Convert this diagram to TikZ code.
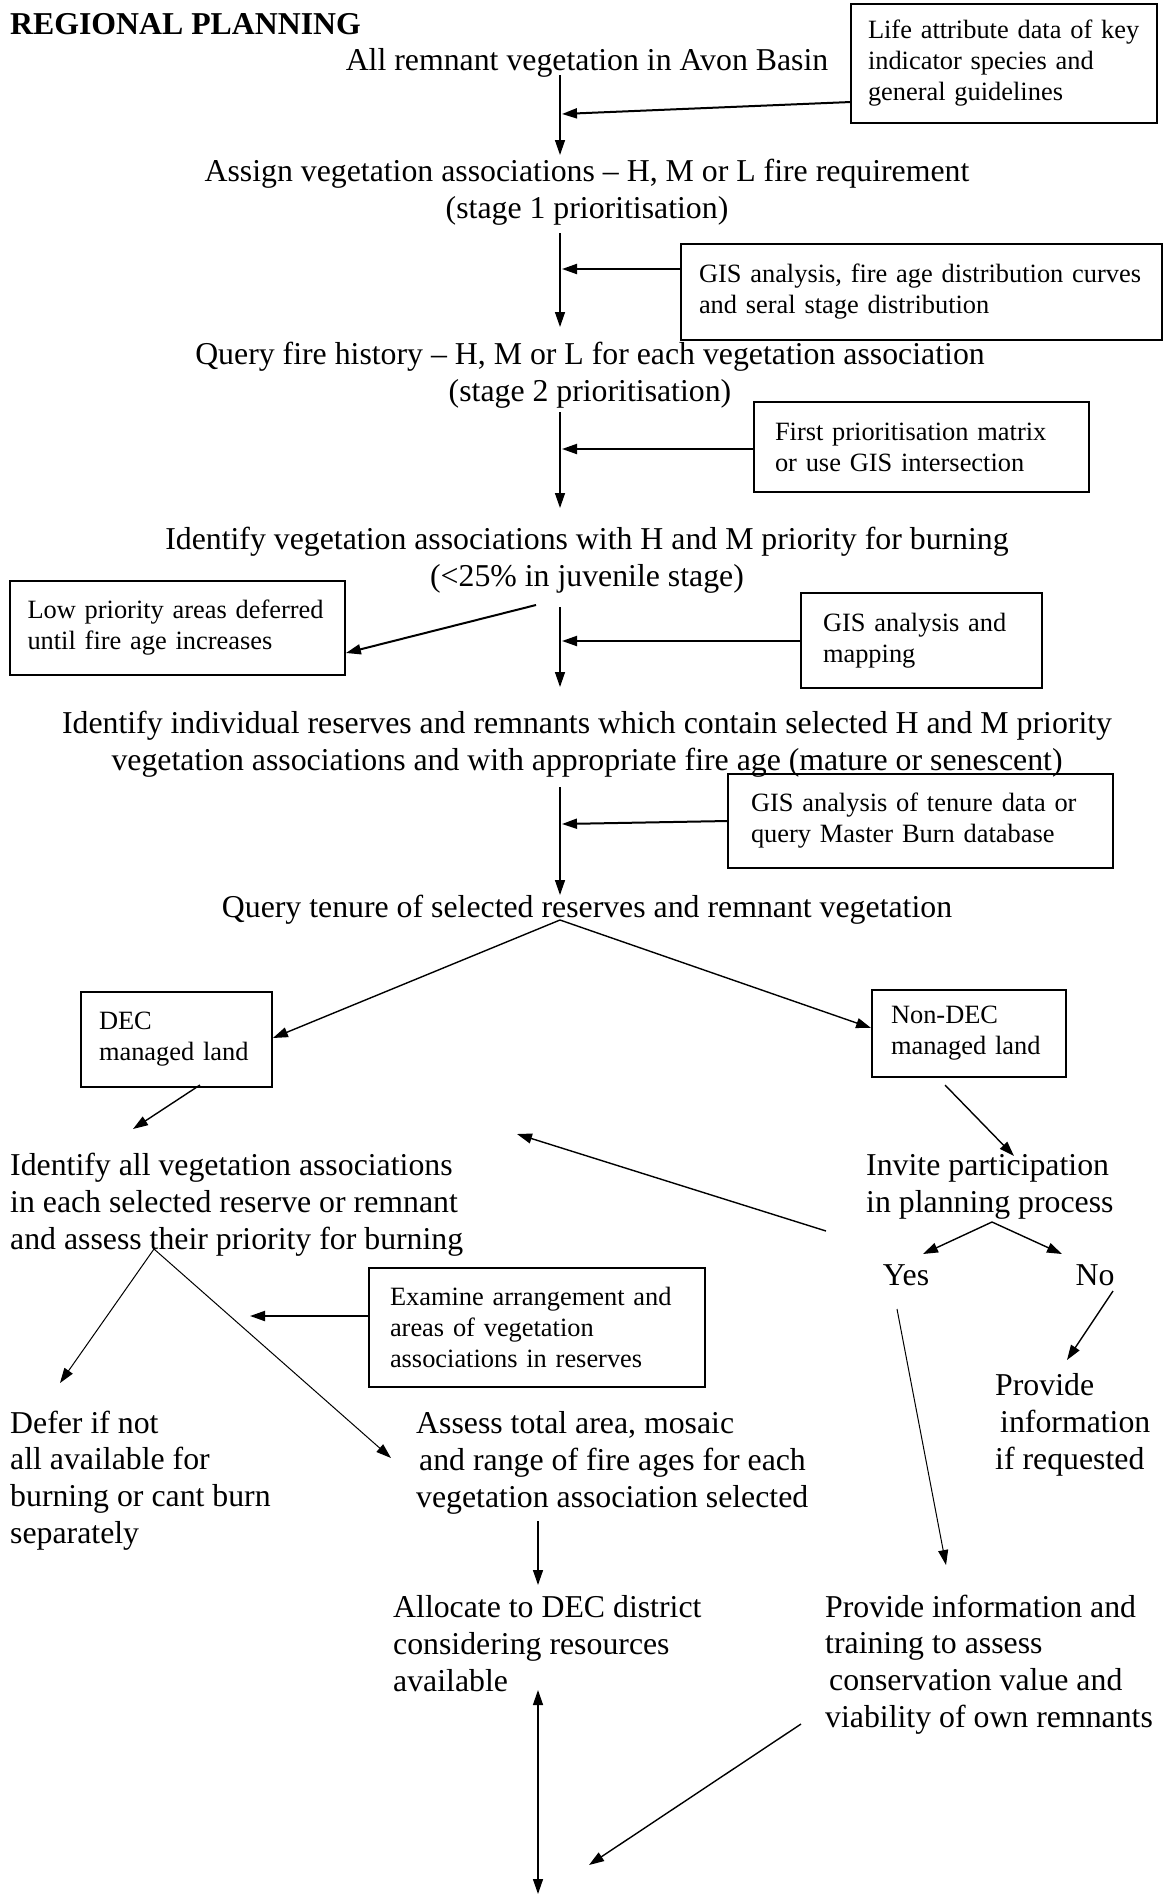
\documentclass[tikz,border=0pt]{standalone}
\usepackage{fontspec}
\setmainfont{Liberation Serif}
\usetikzlibrary{arrows.meta}
\newcommand{\txtsize}{\fontsize{31.8}{36.6}\selectfont}
\newcommand{\notesize}{\fontsize{26.4}{31}\selectfont}

\begin{document}
\begin{tikzpicture}[x=1pt,y=-1pt,
  txt/.style={inner sep=0pt,font=\txtsize},
  note/.style={draw,line width=1.8pt,inner sep=0pt,font=\notesize,align=left},
  arr/.style={line width=1.4pt,-{Triangle[length=15pt,width=10pt]}},
  side/.style={arr,line width=2pt}]
\useasboundingbox (0,0) rectangle (1164,1898);

% heading and the main column (base = last line)
\node[txt,font=\txtsize\bfseries,anchor=west] (title) at (10,24) {REGIONAL PLANNING};
\node[txt,anchor=base] (all) at (587,70) {All remnant vegetation in Avon Basin};
\node[txt,anchor=base,align=center] (assign) at (587,218) {Assign vegetation associations -- H, M or L fire requirement\\(stage 1 prioritisation)};
\node[txt,anchor=base,align=center] (history) at (590,401) {Query fire history -- H, M or L for each vegetation association\\(stage 2 prioritisation)};
\node[txt,anchor=base,align=center] (hmprio) at (587,586) {Identify vegetation associations with H and M priority for burning\\(<25\% in juvenile stage)};
\node[txt,anchor=base,align=center] (reserves) at (587,770) {Identify individual reserves and remnants which contain selected H and M priority\\vegetation associations and with appropriate fire age (mature or senescent)};
\node[txt,anchor=base] (tenure) at (587,917) {Query tenure of selected reserves and remnant vegetation};

% boxes with inputs
\node[note,minimum width=306pt,minimum height=119pt,text width=272pt] (life) at (1004,63.5) {Life attribute data of key\\indicator species and\\general guidelines};
\node[note,minimum width=481pt,minimum height=96pt,text width=445pt] (gis1) at (921.5,292) {GIS analysis, fire age distribution curves\\and seral stage distribution};
\node[note,minimum width=335pt,minimum height=90pt,text width=293pt] (matrix) at (921.5,447) {First prioritisation matrix\\or use GIS intersection};
\node[note,minimum width=335pt,minimum height=94pt,text width=300pt] (lowprio) at (177.5,628) {Low priority areas deferred\\until fire age increases};
\node[note,minimum width=241pt,minimum height=95pt,text width=197pt] (gis2) at (921.5,640.5) {GIS analysis and\\mapping};
\node[note,minimum width=385pt,minimum height=94pt,text width=339pt] (gis3) at (920.5,821) {GIS analysis of tenure data or\\query Master Burn database};
\node[note,minimum width=191pt,minimum height=95pt,text width=155pt] (dec) at (176.5,1039.5) {DEC\\managed land};
\node[note,minimum width=194pt,minimum height=87pt,text width=156pt] (nondec) at (969,1033.5) {Non-DEC\\managed land};
\node[note,minimum width=336pt,minimum height=119pt,text width=294pt] (examine) at (537,1327.5) {Examine arrangement and\\areas of vegetation\\associations in reserves};

% lower part
\node[txt,anchor=base west,align=left] (allveg) at (10,1249) {Identify all vegetation associations\\in each selected reserve or remnant\\and assess their priority for burning};
\node[txt,anchor=base west,align=left] (invite) at (866,1212) {Invite participation\\in planning process};
\node[txt,anchor=base] (yes) at (906,1285) {Yes};
\node[txt,anchor=base] (no) at (1095,1285) {No};
\node[txt,anchor=base west,align=left] (provide) at (995,1469) {Provide\\\hspace*{5pt}information\\if requested};
\node[txt,anchor=base west,align=left] (defer) at (10,1543) {Defer if not\\all available for\\burning or cant burn\\separately};
\node[txt,anchor=base west,align=left] (assess) at (416,1507) {Assess total area, mosaic\\\hspace*{3pt}and range of fire ages for each\\vegetation association selected};
\node[txt,anchor=base west,align=left] (allocate) at (393,1691) {Allocate to DEC district\\considering resources\\available};
\node[txt,anchor=base west,align=left] (training) at (825,1727) {Provide information and\\training to assess\\\hspace*{4pt}conservation value and\\viability of own remnants};

% arrow ends
\coordinate (a1) at (560,75);   \coordinate (b1) at (560,155);
\coordinate (s1) at (562,114);  \coordinate (t1) at (851,102);
\coordinate (a2) at (560,233);  \coordinate (b2) at (560,327);
\coordinate (s2) at (562,269);
\coordinate (a3) at (560,412);  \coordinate (b3) at (560,508);
\coordinate (s3) at (562,449);
\coordinate (a4) at (560,607);  \coordinate (b4) at (560,687);
\coordinate (s4) at (562,641);
\coordinate (l1) at (536,605);
\coordinate (a5) at (560,787);  \coordinate (b5) at (560,895);
\coordinate (s5) at (562,824);  \coordinate (t5) at (728,821);
\coordinate (q) at (560,920);
\coordinate (d1) at (200,1085); \coordinate (d2) at (133,1129);
\coordinate (n1) at (945,1085); \coordinate (n2) at (1014,1156);
\coordinate (back1) at (826,1231); \coordinate (back2) at (517,1134);
\coordinate (iv) at (992,1222);
\coordinate (y1) at (923,1254); \coordinate (y2) at (1062,1254);
\coordinate (no1) at (1113,1291); \coordinate (no2) at (1067,1360);
\coordinate (yes1) at (897,1309); \coordinate (yes2) at (946,1565);
\coordinate (av) at (154,1249);
\coordinate (df) at (60,1383);  \coordinate (as) at (391,1458);
\coordinate (s7) at (250,1316);
\coordinate (al1) at (538,1521); \coordinate (al2) at (538,1585);
\coordinate (up) at (538,1690); \coordinate (down) at (538,1894);
\coordinate (tr1) at (801,1724); \coordinate (tr2) at (589,1865);

% connectors
\draw[arr] (a1) -- (b1);
\draw[side] (t1) -- (s1);
\draw[arr] (a2) -- (b2);
\draw[side] (gis1.west |- s2) -- (s2);
\draw[arr] (a3) -- (b3);
\draw[side] (matrix.west |- s3) -- (s3);
\draw[arr] (a4) -- (b4);
\draw[side] (gis2.west |- s4) -- (s4);
\draw[side] (l1) -- (lowprio.east |- 0,653);
\draw[arr] (a5) -- (b5);
\draw[side] (t5) -- (s5);
\draw[arr] (q) -- (dec.east |- 0,1038);
\draw[arr] (q) -- (nondec.west |- 0,1028);
\draw[arr] (d1) -- (d2);
\draw[arr] (n1) -- (n2);
\draw[arr] (back1) -- (back2);
\draw[arr] (iv) -- (y1);
\draw[arr] (iv) -- (y2);
\draw[arr] (no1) -- (no2);
\draw[arr,line width=1pt] (yes1) -- (yes2);
\draw[arr,line width=1pt] (av) -- (df);
\draw[arr,line width=1pt] (av) -- (as);
\draw[side] (examine.west |- s7) -- (s7);
\draw[arr] (al1) -- (al2);
\draw[arr,{Triangle[length=15pt,width=10pt]}-{Triangle[length=15pt,width=10pt]}] (up) -- (down);
\draw[arr] (tr1) -- (tr2);
\end{tikzpicture}
\end{document}
